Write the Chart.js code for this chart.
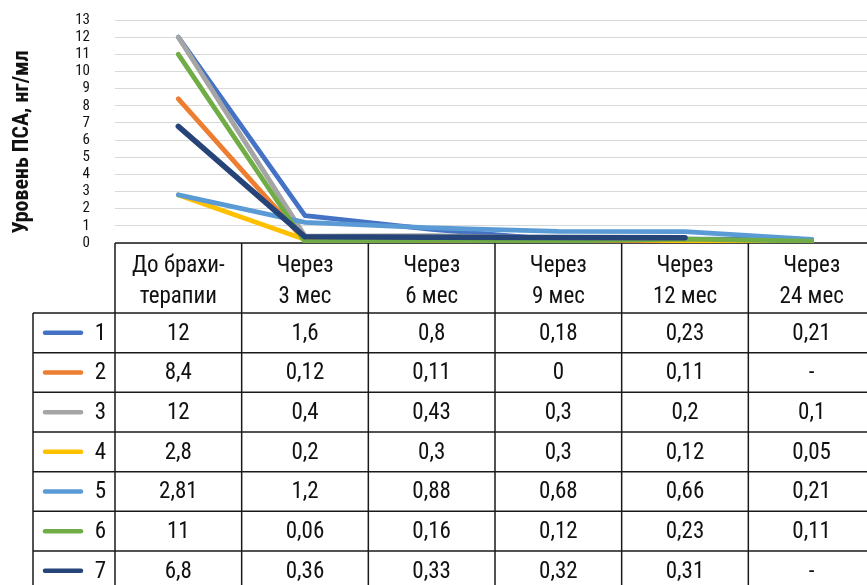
<!DOCTYPE html>
<html>
<head>
<meta charset="utf-8">
<script src="https://cdn.jsdelivr.net/npm/chart.js@4.4.1/dist/chart.umd.min.js"></script>
<style>
    html, body { margin: 0; padding: 0; background: #fff; overflow: hidden; }
    #wrap { width: 880px; height: 585px; }
</style>
</head>
<body>
<div id="wrap"><canvas id="chart" width="880" height="585"></canvas></div>
<script>
// Data
const categories = [
    ['До брахи-', 'терапии'],
    ['Через', '3 мес'],
    ['Через', '6 мес'],
    ['Через', '9 мес'],
    ['Через', '12 мес'],
    ['Через', '24 мес']
];
const seriesNames = ['1', '2', '3', '4', '5', '6', '7'];
const seriesColors = ['#4472C4', '#ED7D31', '#A5A5A5', '#FFC000', '#5B9BD5', '#70AD47', '#264478'];

const patient1 = [12, 1.6, 0.8, 0.18, 0.23, 0.21];
const patient2 = [8.4, 0.12, 0.11, 0, 0.11, null];
const patient3 = [12, 0.4, 0.43, 0.3, 0.2, 0.1];
const patient4 = [2.8, 0.2, 0.3, 0.3, 0.12, 0.05];
const patient5 = [2.81, 1.2, 0.88, 0.68, 0.66, 0.21];
const patient6 = [11, 0.06, 0.16, 0.12, 0.23, 0.11];
const patient7 = [6.8, 0.36, 0.33, 0.32, 0.31, null];
const seriesValues = [patient1, patient2, patient3, patient4, patient5, patient6, patient7];

const yMin = 0;
const yMax = 13;
const yStep = 1;
const yTitle = 'Уровень ПСА, нг/мл';

const FONT = '"Roboto Condensed", "DejaVu Sans Condensed", sans-serif';
const TEXT = '#111';

function formatValue(v) {
    if (v === null || v === undefined) return '-';
    return String(v).replace('.', ',');
}

// table under the plot, aligned with the x scale
const tablePlugin = {
    id: 'dataTable',
    beforeDatasetsDraw(chart) {
        const ctx = chart.ctx;
        const x = chart.scales.x;
        const area = chart.chartArea;
        const colW = x.getPixelForValue(1) - x.getPixelForValue(0);
        const tableTop = area.bottom;
        const headH = 70;
        const rowH = 39.67;
        const legendLeft = 33;
        const bodyTop = tableTop + headH;
        const tableBottom = bodyTop + rowH * seriesNames.length;
        const right = x.getPixelForValue(categories.length - 1) + colW / 2;

        ctx.save();
        ctx.strokeStyle = '#1a1a1a';
        ctx.lineWidth = 1.5;
        ctx.beginPath();
        // header top
        ctx.moveTo(area.left, tableTop);
        ctx.lineTo(right, tableTop);
        // row lines
        for (let r = 0; r <= seriesNames.length; r++) {
            const y = bodyTop + r * rowH;
            ctx.moveTo(legendLeft, y);
            ctx.lineTo(right, y);
        }
        // column lines
        for (let c = 0; c <= categories.length; c++) {
            const xx = x.getPixelForValue(0) - colW / 2 + c * colW;
            ctx.moveTo(xx, tableTop);
            ctx.lineTo(xx, tableBottom);
        }
        ctx.moveTo(legendLeft, bodyTop);
        ctx.lineTo(legendLeft, tableBottom);
        ctx.stroke();

        ctx.fillStyle = TEXT;
        ctx.textAlign = 'center';
        ctx.textBaseline = 'middle';
        ctx.font = '23px ' + FONT;
        categories.forEach((lines, i) => {
            const cx = x.getPixelForValue(i);
            ctx.fillText(lines[0], cx, tableTop + 23);
            ctx.fillText(lines[1], cx, tableTop + 54);
        });

        seriesNames.forEach((name, r) => {
            const cy = bodyTop + r * rowH + rowH / 2;
            ctx.strokeStyle = seriesColors[r];
            ctx.lineWidth = 4.5;
            ctx.lineCap = 'round';
            ctx.beginPath();
            ctx.moveTo(45, cy);
            ctx.lineTo(81, cy);
            ctx.stroke();
            ctx.textAlign = 'right';
            ctx.fillText(name, 106, cy + 1);
            ctx.textAlign = 'center';
            seriesValues[r].forEach((v, i) => {
                ctx.fillText(formatValue(v), x.getPixelForValue(i), cy + 1);
            });
        });

        // axis title
        ctx.translate(22, 142);
        ctx.rotate(-Math.PI / 2);
        ctx.font = 'bold 22px ' + FONT;
        ctx.fillText(yTitle, 0, 0);
        ctx.restore();
    }
};

const ctx = document.getElementById('chart').getContext('2d');
new Chart(ctx, {
    type: 'line',
    data: {
        labels: categories.map(c => c.join(' ')),
        datasets: seriesValues.map((vals, i) => ({
            label: seriesNames[i],
            data: vals,
            borderColor: seriesColors[i],
            backgroundColor: seriesColors[i],
            borderWidth: i === 6 ? 5.5 : 4.8,
            borderCapStyle: 'round',
            borderJoinStyle: 'round',
            pointRadius: 0,
            tension: 0,
            spanGaps: false,
            order: seriesNames.length - i
        }))
    },
    options: {
        responsive: false,
        animation: false,
        events: [],
        layout: { padding: { left: 0, right: 5, top: 20, bottom: 342 } },
        plugins: {
            legend: { display: false },
            tooltip: { enabled: false }
        },
        scales: {
            x: {
                display: false,
                offset: true
            },
            y: {
                min: yMin,
                max: yMax,
                afterFit: scale => { scale.width = 115; },
                border: { display: false },
                grid: { color: '#d9d9d9', lineWidth: 1, tickLength: 22, tickColor: 'rgba(0,0,0,0)' },
                ticks: {
                    stepSize: yStep,
                    autoSkip: false,
                    padding: 3,
                    color: TEXT,
                    font: { family: FONT, size: 15 }
                }
            }
        }
    },
    plugins: [tablePlugin]
});
</script>
</body>
</html>
